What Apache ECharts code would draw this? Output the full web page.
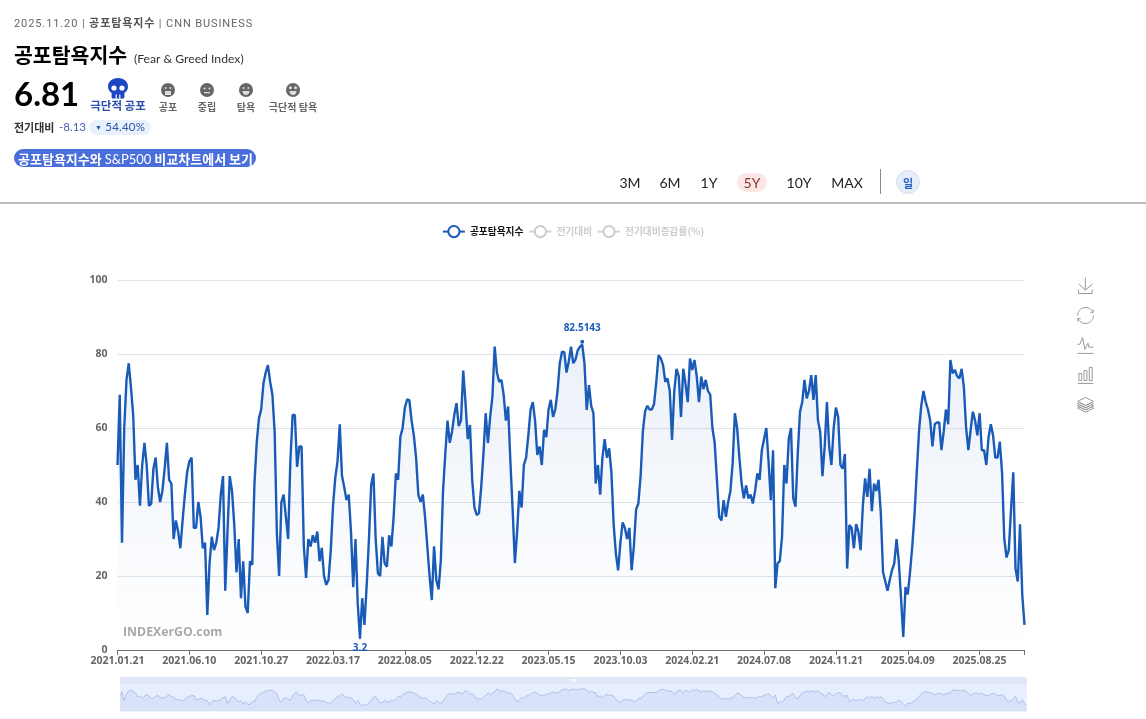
<!DOCTYPE html>
<html>
<head>
<meta charset="utf-8">
<title>공포탐욕지수</title>
<script src="https://cdn.jsdelivr.net/npm/echarts@6/dist/echarts.min.js"></script>
<style>
  html, body { margin: 0; padding: 0; background: #fff; overflow: hidden; }
  body { width: 1146px; height: 719px; position: relative; font-family: Lato, "Noto Sans CJK KR", sans-serif; }
  #chart { position: absolute; left: 0; top: 0; width: 1146px; height: 719px; }
  .t { position: absolute; white-space: nowrap; line-height: 1; z-index: 2; }
  .c { transform: translateX(-50%); }
  svg.t { line-height: 0; }
  #line { position: absolute; left: 0; top: 202px; width: 1146px; height: 2px; background: #bdbdbd; z-index: 2; }
</style>
</head>
<body>
<div id="chart"></div>

<div class="t" style="left:14px;top:14px;font:11px Roboto,'Noto Sans CJK KR';letter-spacing:.9px;color:#666">2025.11.20 | <b style="color:#555">공포탐욕지수</b> | CNN BUSINESS</div>
<div class="t" style="left:14px;top:39px;font:bold 20.500px 'Noto Sans CJK KR';color:#000">공포탐욕지수</div>
<div class="t" style="left:134px;top:51px;font:12.200px Lato,'Noto Sans CJK KR';color:#333">(Fear &amp; Greed Index)</div>
<div class="t" style="left:14px;top:73px;font:bold 33px Lato;color:#000">6.81</div>

<svg class="t" style="left:107px;top:77px" width="22" height="22" viewBox="0 0 22 22">
  <path d="M11 1C5 1 1 4.6 1 9.6c0 3.2 1.6 5.2 3.6 6.4V20c0 1 .6 1.6 1.4 1.6h10c.8 0 1.4-.6 1.4-1.6v-4c2-1.2 3.6-3.2 3.6-6.4C21 4.6 17 1 11 1z" fill="#1c46c4"/>
  <circle cx="7" cy="11" r="2.6" fill="#fff"/><circle cx="15" cy="11" r="2.6" fill="#fff"/>
  <rect x="8.6" y="17.5" width="1.2" height="4" fill="#fff"/><rect x="12.2" y="17.5" width="1.2" height="4" fill="#fff"/>
</svg>
<div class="t c" style="left:118px;top:97px;font:bold 11.500px 'Noto Sans CJK KR';color:#2a4fae">극단적 공포</div>

<svg class="t" style="left:161px;top:83px" width="14" height="14" viewBox="0 0 14 14"><circle cx="7" cy="7" r="7" fill="#666"/><circle cx="4.6" cy="5" r="1" fill="#ddd"/><circle cx="9.4" cy="5" r="1" fill="#ddd"/><rect x="4" y="8" width="6" height="4" fill="#ddd"/></svg>
<svg class="t" style="left:200px;top:83px" width="14" height="14" viewBox="0 0 14 14"><circle cx="7" cy="7" r="7" fill="#666"/><circle cx="4.6" cy="5.5" r="1" fill="#ddd"/><circle cx="9.4" cy="5.5" r="1" fill="#ddd"/><rect x="4" y="9" width="6" height="1.2" fill="#ddd"/></svg>
<svg class="t" style="left:239px;top:83px" width="14" height="14" viewBox="0 0 14 14"><circle cx="7" cy="7" r="7" fill="#666"/><circle cx="4.6" cy="5" r="1" fill="#ddd"/><circle cx="9.4" cy="5" r="1" fill="#ddd"/><path d="M3.5 8h7c0 2.6-1.6 4-3.5 4s-3.500-1.400-3.500-4z" fill="#ddd"/></svg>
<svg class="t" style="left:286px;top:83px" width="14" height="14" viewBox="0 0 14 14"><circle cx="7" cy="7" r="7" fill="#666"/><circle cx="4.400" cy="4.800" r="1.500" fill="#ddd"/><circle cx="9.600" cy="4.800" r="1.500" fill="#ddd"/><path d="M3.500 8h7c0 2.600-1.600 4-3.500 4s-3.500-1.400-3.500-4z" fill="#ddd"/></svg>
<div class="t c" style="left:168px;top:99px;font:bold 10px 'Noto Sans CJK KR';color:#666">공포</div>
<div class="t c" style="left:207px;top:99px;font:bold 10px 'Noto Sans CJK KR';color:#666">중립</div>
<div class="t c" style="left:246px;top:99px;font:bold 10px 'Noto Sans CJK KR';color:#666">탐욕</div>
<div class="t c" style="left:293px;top:99px;font:bold 10px 'Noto Sans CJK KR';color:#666">극단적 탐욕</div>

<div class="t" style="left:14px;top:119px;font:bold 11px 'Noto Sans CJK KR';color:#333">전기대비</div>
<div class="t" style="left:59px;top:120px;font:11.500px Lato;color:#4a60b0">-8.13</div>
<div class="t" style="left:89px;top:120px;width:62px;height:15px;border-radius:8px;background:#e8f0fb"></div>
<div class="t" style="left:95px;top:120px;font:11.500px Lato;color:#2a56a8;letter-spacing:.2px"><span style="font-size:7px;vertical-align:1px">▼</span> 54.40%</div>

<div class="t" style="left:14px;top:149px;width:242px;height:18px;border-radius:9px;background:#4a6edb"></div>
<div class="t" style="left:18px;top:149px;font:bold 13px 'Noto Sans CJK KR';color:#fff">공포탐욕지수와 <span style="font:13px Lato">S&amp;P500</span> 비교차트에서 보기</div>

<div class="t" style="left:737px;top:173px;width:30px;height:19px;border-radius:10px;background:#fbe6e6"></div>
<div class="t c" style="left:630px;top:174px;font:14px Lato;color:#222">3M</div>
<div class="t c" style="left:670px;top:174px;font:14px Lato;color:#222">6M</div>
<div class="t c" style="left:709px;top:174px;font:14px Lato;color:#222">1Y</div>
<div class="t c" style="left:752px;top:174px;font:14px Lato;color:#8a3535">5Y</div>
<div class="t c" style="left:799px;top:174px;font:14px Lato;color:#222">10Y</div>
<div class="t c" style="left:847px;top:174px;font:14px Lato;color:#222">MAX</div>
<div class="t" style="left:880px;top:169px;width:1px;height:25px;background:#888"></div>
<div class="t" style="left:896px;top:170px;width:24px;height:24px;border-radius:50%;background:#e6edf9;border:1px solid #d5dfef;box-sizing:border-box"></div>
<div class="t c" style="left:908px;top:175px;font:bold 11px 'Noto Sans CJK KR';color:#2a62c0">일</div>
<div id="line"></div>

<script>
// 지수값
const tickLabels = ['2021.01.21', '2021.06.10', '2021.10.27', '2022.03.17', '2022.08.05', '2022.12.22', '2023.05.15',
  '2023.10.03', '2024.02.21', '2024.07.08', '2024.11.21', '2025.04.09', '2025.08.25'];
const pointsPerTick = 32;
const seriesNames = ['공포탐욕지수', '전기대비', '전기대비증감률(%)'];
const fearGreed = [
  50, 69, 29, 60, 73, 77.5, 71, 63.5, 46, 50, 39, 50, 56, 50, 39, 39.5, 49, 52, 44, 40, 43, 49, 56, 46, 45, 30, 35, 32, 27.5, 35, 42, 48,
  51, 52, 33, 33, 40, 36, 27.5, 29, 9.5, 23.4, 30.6, 27, 29, 33, 42, 47, 16, 32, 47, 43, 34, 21, 30, 14, 24, 11.7, 10, 24, 23, 45, 56, 62.6,
  65, 72, 75, 77, 72.5, 69, 59, 31.5, 20, 40, 42, 36, 30, 51, 63.5, 63.5, 49.5, 55, 55, 28, 19.5, 30, 28, 31, 29, 32, 24, 27.6, 20, 17.6, 19, 27,
  39, 46.5, 51, 61, 47, 44, 40.5, 42, 32, 17, 30, 12.6, 3.2, 14, 6.8, 17.6, 30, 44.6, 47.7, 30, 20.7, 20, 30.6, 23.4, 22.5, 31, 28, 36, 47.7, 46, 57.6, 60,
  65.5, 67.7, 67.5, 62, 58, 52, 42, 40, 42, 36, 28, 20, 13.5, 28, 19, 16.4, 24, 43, 53, 62, 56, 59, 63.5, 66.7, 60.5, 62, 75.5, 67, 57, 60.8, 46, 38.5,
  36.5, 37, 44, 53, 64, 56, 63, 68.5, 82, 75, 72.5, 73, 69, 62, 65.8, 51, 38, 23.5, 32, 43, 38.5, 50, 52, 58, 65, 67, 62, 52.7, 55, 50, 59.5, 57.5,
  65, 67.6, 63, 65, 70, 77.5, 80.6, 80.5, 75, 78, 82, 77.5, 78.5, 81, 82, 82.5143, 77.5, 64.9, 71.6, 66, 64, 45, 50, 42, 52, 57, 52, 54.5, 48, 34, 26, 21.5,
  29, 34.5, 33, 30, 33, 21.6, 28, 38, 39.6, 47, 59, 64.5, 66, 65, 65, 66.5, 72.5, 79.7, 78.8, 77, 72.5, 73.4, 70, 56.8, 70, 76, 74, 63, 76, 72,
  67, 78.8, 75.7, 78.4, 74, 67, 73.9, 70.5, 73, 70, 69, 60, 56, 46, 36, 35, 40.5, 36, 40, 43, 50.5, 64, 60, 52, 45, 41, 44.5, 41, 42, 39.6, 43, 47.7,
  46, 54, 57, 60, 51, 40.5, 54, 16.7, 23.4, 24, 30.6, 50, 45, 57, 60, 41, 38.7, 53, 64.4, 67, 73, 68, 70, 74.3, 67.6, 74.3, 62, 59, 47, 55, 67, 55,
  50, 60, 65.5, 63, 50, 49, 53, 22, 33.8, 33, 27.5, 34, 32, 27, 39, 46.4, 41.4, 49, 37.5, 45, 43, 46, 37, 21, 18.5, 16, 19, 21.6, 23.4, 30, 24, 14,
  3.5, 17, 15, 21, 28, 36.5, 48, 59, 66, 70, 67, 65, 62, 55, 61, 61.5, 61.5, 54, 59, 65, 61, 78.4, 74.8, 75.7, 74, 73.4, 76, 71, 60, 54, 59.5, 64.4, 62,
  58, 64, 54, 54, 50, 57.6, 61, 58, 52, 52, 56.3, 48, 30, 25, 27, 38, 48, 22, 18.5, 34, 15, 6.81
];
const previousDiff = [];
const previousRate = [];
const categories = fearGreed.map((v, i) => String(i));

const lineColor = '#1a5bb8';
const chart = echarts.init(document.getElementById('chart'));

const option = {
  animation: false,
  textStyle: { fontFamily: '"Open Sans", "Noto Sans CJK KR", sans-serif' },
  legend: {
    top: 220,
    left: 'center',
    itemWidth: 22,
    itemHeight: 14,
    itemGap: 5,
    data: seriesNames,
    selected: { [seriesNames[0]]: true, [seriesNames[1]]: false, [seriesNames[2]]: false },
    textStyle: { fontSize: 9.700, fontWeight: 'bold', color: '#111', fontFamily: '"Noto Sans CJK KR"' },
    inactiveColor: '#ccc'
  },
  toolbox: {
    orient: 'vertical',
    right: 48 - 13,
    top: 260,
    itemSize: 16,
    itemGap: 9,
    showTitle: false,
    iconStyle: { borderColor: '#999' },
    feature: {
      saveAsImage: {},
      restore: {},
      magicType: { type: ['line', 'bar', 'stack'] }
    }
  },
  grid: { left: 117.500, right: 121.500, top: 280, bottom: 69 },
  xAxis: {
    type: 'category',
    boundaryGap: false,
    data: categories,
    axisLine: { lineStyle: { color: '#6e7079' } },
    axisTick: { alignWithLabel: true, interval: pointsPerTick - 1, length: 5 },
    axisLabel: {
      interval: pointsPerTick - 1,
      showMinLabel: true,
      showMaxLabel: true,
      fontSize: 10.500,
      fontWeight: 'bold',
      color: '#666',
      margin: 6,
      formatter: (v) => tickLabels[Number(v) / pointsPerTick] || ''
    }
  },
  yAxis: {
    type: 'value',
    min: 0,
    max: 100,
    interval: 20,
    axisLabel: { fontSize: 10.500, fontWeight: 'bold', color: '#666', margin: 10 },
    splitLine: { lineStyle: { color: '#e0e3ea' } }
  },
  dataZoom: [
    {
      type: 'slider',
      left: 117,
      right: 122,
      top: 677,
      height: 28,
      showDetail: false,
      borderColor: 'transparent',
      handleSize: 0,
      moveHandleSize: 7,
      moveHandleStyle: { color: '#dfe6f5', opacity: 1 }
    }
  ],
  graphic: [
    {
      type: 'text',
      left: 123,
      top: 626,
      silent: true,
      style: { text: 'INDEXerGO.com', fill: '#a9a9a9', font: 'bold 12.300px "Open Sans", sans-serif' }
    }
  ],
  series: [
    {
      name: seriesNames[0],
      type: 'line',
      data: fearGreed,
      showSymbol: false,
      symbol: 'emptyCircle',
      symbolSize: 8,
      itemStyle: { color: lineColor, borderWidth: 2 },
      lineStyle: { color: lineColor, width: 2.400 },
      areaStyle: {
        color: {
          type: 'linear', x: 0, y: 0, x2: 0, y2: 1,
          colorStops: [
            { offset: 0, color: 'rgba(26,91,184,0.12)' },
            { offset: 1, color: 'rgba(26,91,184,0)' }
          ]
        }
      },
      markPoint: {
        symbol: 'circle',
        symbolSize: 4,
        itemStyle: { color: lineColor },
        label: { color: lineColor, fontSize: 10, fontWeight: 'bold' },
        data: [
          { type: 'max', name: 'max', symbolOffset: [0, -3], label: { position: 'top', distance: 7 } },
          { type: 'min', name: 'min', symbolSize: 2, label: { position: 'bottom', distance: 4 } }
        ]
      }
    },
    { name: seriesNames[1], type: 'line', data: previousDiff, symbol: 'emptyCircle', symbolSize: 8, itemStyle: { color: '#ccc' }, lineStyle: { color: '#ccc' } },
    { name: seriesNames[2], type: 'line', data: previousRate, symbol: 'emptyCircle', symbolSize: 8, itemStyle: { color: '#ccc' }, lineStyle: { color: '#ccc' } }
  ]
};
chart.setOption(option);
</script>
</body>
</html>
